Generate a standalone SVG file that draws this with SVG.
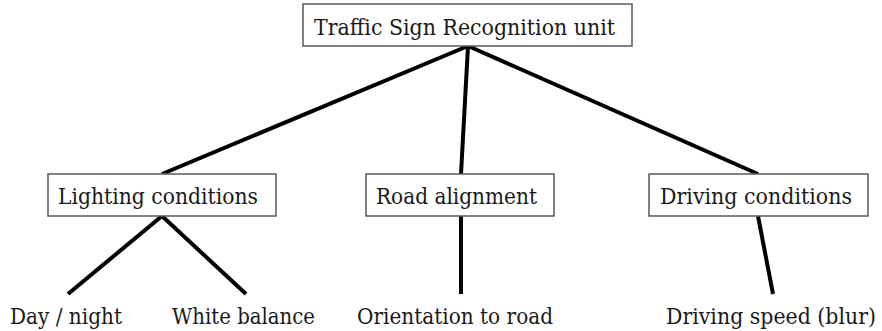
<svg xmlns="http://www.w3.org/2000/svg" width="882" height="331" viewBox="0 0 882 331">
<style>
.box{fill:#fff;stroke:#595959;stroke-width:1.5}
.t{font-size:22px;fill:#1a1a1a}
.c{stroke:#000;stroke-width:4;stroke-linecap:butt;fill:none}
</style>
<rect width="882" height="331" fill="#fff"/>
<g id="connectors">
<line class="c" x1="468" y1="46" x2="162" y2="174"/>
<line class="c" x1="468" y1="46" x2="461" y2="174"/>
<line class="c" x1="468" y1="46" x2="758" y2="174"/>
<line class="c" x1="162" y1="216" x2="68" y2="294"/>
<line class="c" x1="162" y1="216" x2="246" y2="294"/>
<line class="c" x1="461" y1="216" x2="461" y2="294"/>
<line class="c" x1="758" y1="216" x2="773" y2="294"/>
</g>
<g font-family="DejaVu Serif, Liberation Serif, serif">
<g id="root">
<rect class="box" x="303" y="4" width="329" height="42"/>
<text class="t" x="314" y="35" textLength="301" lengthAdjust="spacingAndGlyphs">Traffic Sign Recognition unit</text>
</g>
<g id="lighting">
<rect class="box" x="48" y="174" width="228" height="42"/>
<text class="t" x="58" y="204" textLength="200" lengthAdjust="spacingAndGlyphs">Lighting  conditions</text>
</g>
<g id="road">
<rect class="box" x="366" y="174" width="188" height="42"/>
<text class="t" x="376" y="204" textLength="161" lengthAdjust="spacingAndGlyphs">Road alignment</text>
</g>
<g id="driving">
<rect class="box" x="649" y="174" width="219" height="42"/>
<text class="t" x="660" y="204" textLength="192" lengthAdjust="spacingAndGlyphs">Driving  conditions</text>
</g>
<g id="daynight"><text class="t" x="10" y="324" textLength="112" lengthAdjust="spacingAndGlyphs">Day / night</text></g>
<g id="whitebalance"><text class="t" x="172" y="324" textLength="143" lengthAdjust="spacingAndGlyphs">White balance</text></g>
<g id="orientation"><text class="t" x="357" y="324" textLength="196" lengthAdjust="spacingAndGlyphs">Orientation to road</text></g>
<g id="speed"><text class="t" x="876" y="324" font-size="21" text-anchor="end" textLength="210" lengthAdjust="spacingAndGlyphs">Driving speed (blur)</text></g>
</g>
</svg>
